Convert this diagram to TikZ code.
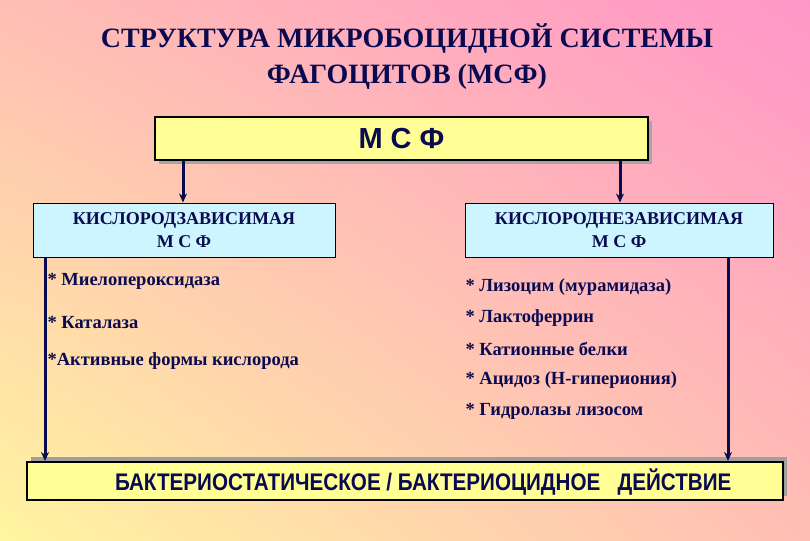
\documentclass[tikz,border=0pt]{standalone}
\usepackage{fontspec}
\setmainfont{Liberation Serif}
\setsansfont{Liberation Sans}
\usetikzlibrary{shadings,arrows.meta}
\begin{document}
\begin{tikzpicture}[x=1pt,y=-1pt,
  txt/.style={text=navy},
  arr/.style={draw=navy,line width=3pt,-{Stealth[length=9pt,width=8pt]}},
  cyanbox/.style={draw=black,line width=1pt,fill=cyanfill,inner sep=0pt},
  item/.style={anchor=west,text=navy,font=\bfseries\fontsize{18.5}{20}\selectfont}]
\definecolor{navy}{RGB}{10,10,80}
\definecolor{cyanfill}{RGB}{204,245,255}
\definecolor{yel}{RGB}{255,255,150}
\definecolor{pinkc}{RGB}{255,150,200}
\definecolor{yelbg}{RGB}{255,245,160}
\definecolor{midc}{RGB}{255,190,180}
\useasboundingbox (0,0) rectangle (810,540);
\shade[lower left=yelbg,upper right=pinkc,lower right=midc,upper left=midc] (0,0) rectangle (810,540);
\node[txt,font=\bfseries\fontsize{28}{36}\selectfont,align=center] (title) at (407,57) {СТРУКТУРА  МИКРОБОЦИДНОЙ  СИСТЕМЫ\\ФАГОЦИТОВ  (МСФ)};
% top box
\fill[gray!70] (159,121) rectangle (652,164);
\node[draw=black,line width=2pt,fill=yel,minimum width=493pt,minimum height=43pt,inner sep=0pt,
  font=\sffamily\bfseries\fontsize{29}{30}\selectfont,text=navy] (msf) at (401.5,138.5) {М  С  Ф};
\node[cyanbox,minimum width=302pt,minimum height=54pt,align=center,text=navy,font=\bfseries\fontsize{18}{23}\selectfont] (left) at (184,230) {КИСЛОРОДЗАВИСИМАЯ\\М С Ф};
\node[cyanbox,minimum width=308pt,minimum height=54pt,align=center,text=navy,font=\bfseries\fontsize{18}{23}\selectfont] (right) at (619,230) {КИСЛОРОДНЕЗАВИСИМАЯ\\М С Ф};
% bottom box
\fill[gray!75] (31,457) rectangle (787,496);
\node[draw=black,line width=2pt,fill=yel,minimum width=756pt,minimum height=38pt,inner sep=0pt] (bottom) at (405,481) {};
\node[text=navy,font=\sffamily\bfseries\fontsize{24}{26}\selectfont,xscale=0.86,anchor=west] (btxt) at (112,482) {БАКТЕРИОСТАТИЧЕСКОЕ / БАКТЕРИОЦИДНОЕ \ \ ДЕЙСТВИЕ};
% arrows
\draw[arr] (msf.south -| 183,0) -- (left.north -| 183,0);
\draw[arr] (msf.south -| 620,0) -- (right.north -| 620,0);
\draw[arr] (left.south -| 45,0) -- (bottom.north -| 45,0);
\draw[arr] (right.south -| 728,0) -- (bottom.north -| 728,0);
% items
\node[item] (l1) at (44,281) {* Миелопероксидаза};
\node[item] (l2) at (44,322) {* Каталаза};
\node[item] (l3) at (44,361) {*Активные  формы  кислорода};
\node[item] (r1) at (462,287) {* Лизоцим  (мурамидаза)};
\node[item] (r2) at (462,318) {* Лактоферрин};
\node[item] (r3) at (462,349) {* Катионные  белки};
\node[item] (r4) at (462,380) {* Ацидоз (Н-гипериония)};
\node[item] (r5) at (462,411) {* Гидролазы  лизосом};
\end{tikzpicture}
\end{document}
